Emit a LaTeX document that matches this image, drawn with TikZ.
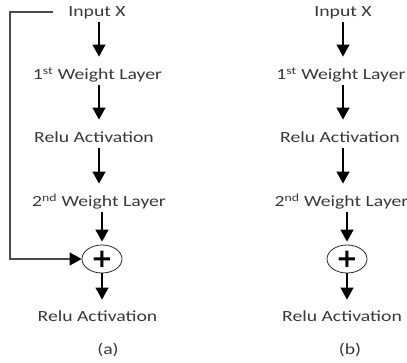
\documentclass[tikz,border=0pt]{standalone}
\usepackage{fontspec}
\setmainfont{Carlito}
\newfontfamily\lblfont[FakeStretch=1.27]{Carlito}
\newfontfamily\plusfont{DejaVu Sans}
\usetikzlibrary{arrows.meta,shapes.geometric}
\begin{document}
\begin{tikzpicture}[x=1pt,y=-1pt,
  lbl/.style={font=\lblfont\fontsize{15.5}{18}\selectfont, text=black!78, inner xsep=0pt, inner ysep=2pt, text height=11pt, text depth=3.5pt},
  arr/.style={draw=black, line width=1.3pt, -{Triangle[width=13pt,length=12pt]}},
  sum/.style={ellipse, draw=black!85, line width=0.8pt, minimum width=40pt, minimum height=28pt, inner sep=0pt},
  plus/.style={font=\plusfont\bfseries\fontsize{26}{26}\selectfont, inner sep=0pt},
  skip/.style={draw=black!70, line width=1.3pt, -{Triangle[width=13pt,length=12pt,color=black]}}]
\useasboundingbox (0,0) rectangle (407,362);
\clip (0,0) rectangle (407,362);
% panel (a)
\coordinate (axA) at (99,0);
\coordinate (axAs) at (102,0);
\node[lbl] (inA) at (97,13) {Input X};
\node[lbl] (w1A) at (97.5,76) {1\textsuperscript{st} Weight Layer};
\node[lbl] (r1A) at (94,139) {Relu Activation};
\node[lbl] (w2A) at (99,203) {2\textsuperscript{nd} Weight Layer};
\node[sum] (sumA) at (102,259) {};
\node[plus] (pA) at (sumA) {+};
\node[lbl] (r2A) at (97.5,318) {Relu Activation};
\node[lbl] (capA) at (108,351) {(a)};
\draw[arr, shorten >=10pt] (inA.south -| axA) -- (w1A.north -| axA);
\draw[arr, shorten >=10pt] (w1A.south -| axA) -- (r1A.north -| axA);
\draw[arr, shorten >=10pt] (r1A.south -| axA) -- (w2A.north -| axA);
\draw[arr, shorten >=3pt] (w2A.south -| axAs) -- (sumA.north);
\draw[arr, shorten >=9pt] (sumA.south) -- (r2A.north -| axAs);
\coordinate (skS) at (53,12);
\coordinate (skC) at (10,12);
\draw[skip] (skS) -- (skC) |- (sumA.west);
% panel (b)
\coordinate (axB) at (343,0);
\coordinate (axBs) at (347,0);
\node[lbl] (inB) at (343,13) {Input X};
\node[lbl] (w1B) at (341,76) {1\textsuperscript{st} Weight Layer};
\node[lbl] (r1B) at (340,139) {Relu Activation};
\node[lbl] (w2B) at (341.5,203) {2\textsuperscript{nd} Weight Layer};
\node[sum] (sumB) at (347,259) {};
\node[plus] (pB) at (sumB) {+};
\node[lbl] (r2B) at (342,318) {Relu Activation};
\node[lbl] (capB) at (350,351) {(b)};
\draw[arr, shorten >=10pt] (inB.south -| axB) -- (w1B.north -| axB);
\draw[arr, shorten >=10pt] (w1B.south -| axB) -- (r1B.north -| axB);
\draw[arr, shorten >=10pt] (r1B.south -| axB) -- (w2B.north -| axB);
\draw[arr, shorten >=3pt] (w2B.south -| axBs) -- (sumB.north);
\draw[arr, shorten >=9pt] (sumB.south) -- (r2B.north -| axBs);
\end{tikzpicture}
\end{document}
